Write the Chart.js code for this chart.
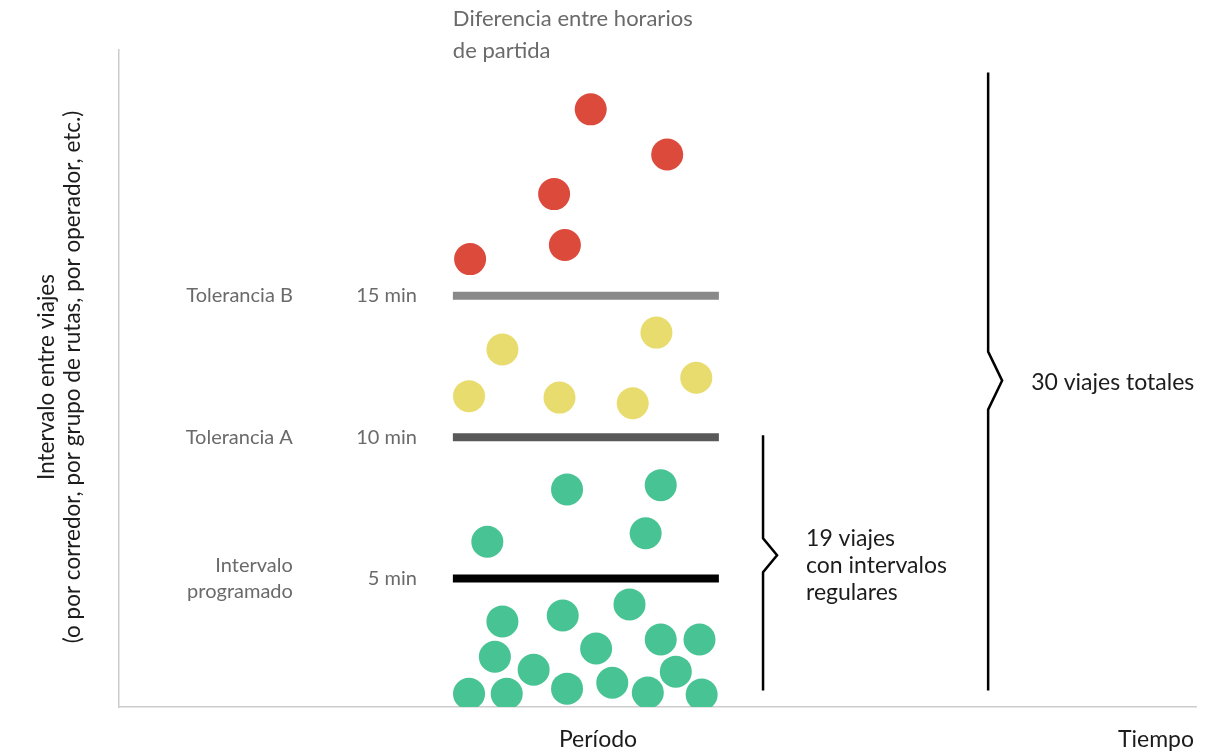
<!DOCTYPE html>
<html>
<head>
<meta charset="utf-8">
<script src="https://cdn.jsdelivr.net/npm/chart.js@4/dist/chart.umd.min.js"></script>
<style>
    html, body { margin: 0; padding: 0; background: #fff; }
    #wrap { width: 1218px; height: 754px; }
</style>
</head>
<body>
<div id="wrap"><canvas id="chart"></canvas></div>
<script>
// Trips: x = time within the period, y = headway in minutes
const redX = [43.8, 50.9, 40.4, 41.4, 32.6];
const redY = [21.6, 20.0, 18.6, 16.8, 16.3];

const yellowX = [32.5, 35.6, 40.9, 47.7, 49.9, 53.6];
const yellowY = [11.45, 13.1, 11.4, 11.2, 13.7, 12.1];

const greenX = [34.2, 41.6, 50.3, 48.9,
    32.5, 36.0, 35.6, 34.9, 38.5, 41.2, 41.6, 44.3, 45.8, 47.4, 49.1, 50.3, 51.7, 53.9, 54.1];
const greenY = [6.3, 8.15, 8.3, 6.6,
    0.92, 0.92, 3.48, 2.23, 1.77, 3.69, 1.1, 2.52, 1.31, 4.08, 0.96, 2.84, 1.7, 2.84, 0.89];

// Thresholds
const thresholdValues = [5, 10, 15];
const thresholdLabels = ['5 min', '10 min', '15 min'];
const thresholdNames = [['Intervalo', 'programado'], ['Tolerancia A'], ['Tolerancia B']];
const periodStart = 31.0;
const periodEnd = 55.7;

// Brace ranges (x, from, to, tip)
const braceTotal = { x: 80.7, from: 1.03, to: 22.9, tip: 12.0 };
const braceRegular = { x: 59.8, from: 1.03, to: 10.07, tip: 5.82 };

const COLORS = {
    red: '#dc4a3c',
    yellow: '#e8dc6e',
    green: '#48c393',
    thresholds: ['#000000', '#595959', '#898989'],
    axis: '#cccccc',
    muted: '#6a6a6a',
    dark: '#1c1c1c'
};
const FONT = 'Lato, "Open Sans", sans-serif';

const dots = (xs, ys) => xs.map((x, i) => ({ x, y: ys[i] }));

const thresholdSets = thresholdValues.map((v, i) => ({
    type: 'line',
    data: [{ x: periodStart, y: v }, { x: periodEnd, y: v }],
    borderColor: COLORS.thresholds[i],
    borderWidth: 8,
    borderCapStyle: 'butt',
    pointRadius: 0,
    order: 2
}));

const pointSet = (data, color) => ({
    type: 'scatter',
    data,
    backgroundColor: color,
    borderWidth: 0,
    pointRadius: 16,
    pointHoverRadius: 16,
    order: 1
});

function drawBrace(ctx, xs, ys, b, half) {
    const x = xs.getPixelForValue(b.x);
    const top = ys.getPixelForValue(b.to);
    const bottom = ys.getPixelForValue(b.from);
    const tip = ys.getPixelForValue(b.tip);
    ctx.beginPath();
    ctx.moveTo(x, top);
    ctx.lineTo(x, tip - half);
    ctx.lineTo(x + 14, tip);
    ctx.lineTo(x, tip + half);
    ctx.lineTo(x, bottom);
    ctx.stroke();
}

const annotations = {
    id: 'annotations',
    afterDatasetsDraw(chart) {
        const { ctx, chartArea, scales: { x: xs, y: ys } } = chart;
        const startPx = xs.getPixelForValue(periodStart);
        ctx.save();

        // braces
        ctx.strokeStyle = '#000';
        ctx.lineWidth = 2.5;
        ctx.lineJoin = 'miter';
        drawBrace(ctx, xs, ys, braceTotal, 29);
        drawBrace(ctx, xs, ys, braceRegular, 17);

        ctx.textBaseline = 'middle';

        // threshold labels
        ctx.fillStyle = COLORS.muted;
        ctx.font = '400 20px ' + FONT;
        thresholdValues.forEach((v, i) => {
            const py = ys.getPixelForValue(v);
            ctx.textAlign = 'right';
            ctx.fillText(thresholdLabels[i], startPx - 36, py);
            const names = thresholdNames[i];
            const off = (names.length - 1) * 13;
            names.forEach((n, j) => ctx.fillText(n, startPx - 160, py - off + j * 26));
        });

        // top note
        ctx.textAlign = 'left';
        ctx.font = '400 22px ' + FONT;
        ctx.fillText('Diferencia entre horarios', startPx, 19);
        ctx.fillText('de partida', startPx, 51);

        // brace notes
        ctx.fillStyle = COLORS.dark;
        ctx.font = '400 23px ' + FONT;
        const rx = xs.getPixelForValue(braceRegular.x) + 43;
        const ry = ys.getPixelForValue(braceRegular.tip) + 10;
        ['19 viajes', 'con intervalos', 'regulares'].forEach((t, j) => ctx.fillText(t, rx, ry + (j - 1) * 27));
        ctx.fillText('30 viajes totales', xs.getPixelForValue(braceTotal.x) + 43, ys.getPixelForValue(braceTotal.tip) + 2);

        // axis titles
        ctx.textAlign = 'center';
        ctx.fillText('Período', 598, 740);
        ctx.textAlign = 'right';
        ctx.fillText('Tiempo', chartArea.right - 2, 740);

        ctx.font = '400 22.5px ' + FONT;
        ctx.translate(60, 377);
        ctx.rotate(-Math.PI / 2);
        ctx.textAlign = 'center';
        ctx.fillText('Intervalo entre viajes', 0, -13);
        ctx.fillText('(o por corredor, por grupo de rutas, por operador, etc.)', 0, 13);

        ctx.restore();
    }
};

new Chart(document.getElementById('chart'), {
    type: 'scatter',
    data: {
        datasets: [
            ...thresholdSets,
            pointSet(dots(redX, redY), COLORS.red),
            pointSet(dots(yellowX, yellowY), COLORS.yellow),
            pointSet(dots(greenX, greenY), COLORS.green)
        ]
    },
    options: {
        responsive: true,
        maintainAspectRatio: false,
        animation: false,
        layout: { padding: { left: 111, right: 22, top: 50, bottom: 39 } },
        plugins: {
            legend: { display: false },
            tooltip: { enabled: false }
        },
        scales: {
            x: {
                type: 'linear',
                min: 0,
                max: 100,
                grid: { display: false },
                border: { display: true, color: COLORS.axis, width: 1.5 },
                ticks: { display: false }
            },
            y: {
                type: 'linear',
                min: 0.45,
                max: 23.7,
                grid: { display: false },
                border: { display: true, color: COLORS.axis, width: 1.5 },
                ticks: { display: false }
            }
        }
    },
    plugins: [annotations]
});
</script>
</body>
</html>
